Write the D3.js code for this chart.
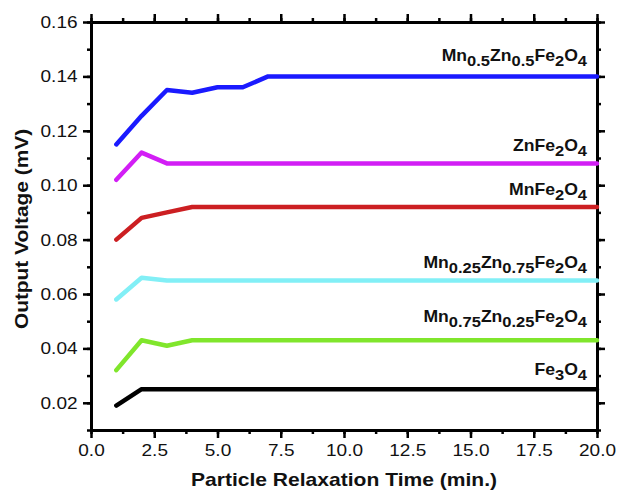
<!DOCTYPE html>
<html lang="en">
  <head>
    <meta charset="utf-8">
    <title>Output voltage vs relaxation time</title>
    <script type="text/javascript" src="https://cdn.jsdelivr.net/npm/d3@7"></script>
    <style>
      body { margin: 0; background: #fff; }
      text { font-family: Arial, "Liberation Sans", sans-serif; }
    </style>
  </head>
  <body>
    <script type="text/javascript">
      var width = 620;
      var height = 491;
      var margin = {top: 22, right: 23, bottom: 61, left: 91};

      // data
      var times = [1, 2, 3, 4, 5, 6, 7, 8, 9, 10, 11, 12, 13, 14, 15, 16, 17, 18, 19, 20];
      var mn05zn05 = [0.115, 0.1255, 0.135, 0.134, 0.136, 0.136, 0.140, 0.140, 0.140, 0.140, 0.140, 0.140, 0.140, 0.140, 0.140, 0.140, 0.140, 0.140, 0.140, 0.140];
      var znFe = [0.102, 0.112, 0.108, 0.108, 0.108, 0.108, 0.108, 0.108, 0.108, 0.108, 0.108, 0.108, 0.108, 0.108, 0.108, 0.108, 0.108, 0.108, 0.108, 0.108];
      var mnFe = [0.080, 0.088, 0.090, 0.092, 0.092, 0.092, 0.092, 0.092, 0.092, 0.092, 0.092, 0.092, 0.092, 0.092, 0.092, 0.092, 0.092, 0.092, 0.092, 0.092];
      var mn025zn075 = [0.058, 0.066, 0.065, 0.065, 0.065, 0.065, 0.065, 0.065, 0.065, 0.065, 0.065, 0.065, 0.065, 0.065, 0.065, 0.065, 0.065, 0.065, 0.065, 0.065];
      var mn075zn025 = [0.032, 0.043, 0.041, 0.043, 0.043, 0.043, 0.043, 0.043, 0.043, 0.043, 0.043, 0.043, 0.043, 0.043, 0.043, 0.043, 0.043, 0.043, 0.043, 0.043];
      var fe3o4 = [0.019, 0.025, 0.025, 0.025, 0.025, 0.025, 0.025, 0.025, 0.025, 0.025, 0.025, 0.025, 0.025, 0.025, 0.025, 0.025, 0.025, 0.025, 0.025, 0.025];

      // labels as [text, subscript?] pieces
      var seriesLabels = [
        [["Mn", 0], ["0.5", 1], ["Zn", 0], ["0.5", 1], ["Fe", 0], ["2", 1], ["O", 0], ["4", 1]],
        [["ZnFe", 0], ["2", 1], ["O", 0], ["4", 1]],
        [["MnFe", 0], ["2", 1], ["O", 0], ["4", 1]],
        [["Mn", 0], ["0.25", 1], ["Zn", 0], ["0.75", 1], ["Fe", 0], ["2", 1], ["O", 0], ["4", 1]],
        [["Mn", 0], ["0.75", 1], ["Zn", 0], ["0.25", 1], ["Fe", 0], ["2", 1], ["O", 0], ["4", 1]],
        [["Fe", 0], ["3", 1], ["O", 0], ["4", 1]]
      ];
      var seriesValues = [mn05zn05, znFe, mnFe, mn025zn075, mn075zn025, fe3o4];
      var colors = ["#1a1aff", "#d21ef5", "#cc1f22", "#82eff6", "#80e62c", "#000000"];
      var labelGap = [15, 12.5, 11.5, 12, 18, 14];

      var xTicks = [0, 2.5, 5, 7.5, 10, 12.5, 15, 17.5, 20];
      var yTicks = [0.02, 0.04, 0.06, 0.08, 0.10, 0.12, 0.14, 0.16];
      var stretch = 1.12;

      var svg = d3.select("body").append("svg")
          .attr("width", width)
          .attr("height", height);

      var xScale = d3.scaleLinear().domain([0, 20])
          .range([margin.left, width - margin.right]);
      var yScale = d3.scaleLinear().domain([0.01, 0.16])
          .range([height - margin.bottom, margin.top]);

      var minorX = d3.range(0, 20.01, 1.25);
      var minorY = d3.range(0.01, 0.1601, 0.01);

      function styleAxis(g) {
        g.select(".domain").attr("stroke", "#000").attr("stroke-width", 3);
        g.selectAll(".tick line").attr("stroke", "#000").attr("stroke-width", 2.5);
        g.selectAll(".tick text")
          .attr("font-size", "17px")
          .attr("fill", "#111");
      }

      // minor ticks
      svg.append("g").attr("transform", "translate(0," + yScale(0.01) + ")")
         .call(d3.axisBottom(xScale).tickValues(minorX).tickSize(4).tickFormat("").tickSizeOuter(0))
         .call(styleAxis);
      svg.append("g").attr("transform", "translate(0," + yScale(0.16) + ")")
         .call(d3.axisTop(xScale).tickValues(minorX).tickSize(4).tickFormat("").tickSizeOuter(0))
         .call(styleAxis);
      svg.append("g").attr("transform", "translate(" + xScale(0) + ",0)")
         .call(d3.axisLeft(yScale).tickValues(minorY).tickSize(4).tickFormat("").tickSizeOuter(0))
         .call(styleAxis);
      svg.append("g").attr("transform", "translate(" + xScale(20) + ",0)")
         .call(d3.axisRight(yScale).tickValues(minorY).tickSize(4).tickFormat("").tickSizeOuter(0))
         .call(styleAxis);

      // major ticks
      var xAxis = svg.append("g").attr("transform", "translate(0," + yScale(0.01) + ")")
         .call(d3.axisBottom(xScale).tickValues(xTicks).tickSize(8).tickPadding(6)
               .tickFormat(d3.format(".1f")).tickSizeOuter(0))
         .call(styleAxis);
      xAxis.selectAll(".tick text").attr("transform", "scale(" + stretch + ",1)");

      svg.append("g").attr("transform", "translate(0," + yScale(0.16) + ")")
         .call(d3.axisTop(xScale).tickValues(xTicks).tickSize(8).tickFormat("").tickSizeOuter(0))
         .call(styleAxis);

      var yAxis = svg.append("g").attr("transform", "translate(" + xScale(0) + ",0)")
         .call(d3.axisLeft(yScale).tickValues(yTicks).tickSize(8).tickPadding(4)
               .tickFormat(d3.format(".2f")).tickSizeOuter(0))
         .call(styleAxis);
      yAxis.selectAll(".tick text").attr("transform", "scale(" + stretch + ",1)");

      svg.append("g").attr("transform", "translate(" + xScale(20) + ",0)")
         .call(d3.axisRight(yScale).tickValues(yTicks).tickSize(8).tickFormat("").tickSizeOuter(0))
         .call(styleAxis);

      // lines
      var line = d3.line()
          .x(function(d, i) { return xScale(times[i]); })
          .y(function(d) { return yScale(d); });

      svg.selectAll("path.series")
         .data(seriesValues)
         .enter()
         .append("path")
         .attr("class", "series")
         .attr("d", line)
         .attr("fill", "none")
         .attr("stroke", function(d, i) { return colors[i]; })
         .attr("stroke-width", 4.5)
         .attr("stroke-linejoin", "round")
         .attr("stroke-linecap", "round");

      // series labels
      seriesLabels.forEach(function(parts, i) {
        var vals = seriesValues[i];
        var g = svg.append("g")
            .attr("transform", "translate(" + (xScale(20) - 10) + "," +
                  (yScale(vals[vals.length - 1]) - labelGap[i]) + ") scale(1.1,1)");
        var t = g.append("text")
            .attr("text-anchor", "end")
            .attr("font-weight", "bold")
            .attr("font-size", "16px")
            .attr("fill", "#111");
        var prevSub = false;
        parts.forEach(function(p) {
          var ts = t.append("tspan").text(p[0]);
          if (p[1]) {
            ts.attr("font-size", "15px").attr("dy", prevSub ? 0 : 5);
          } else {
            ts.attr("dy", prevSub ? -5 : 0);
          }
          prevSub = !!p[1];
        });
      });

      // axis titles
      svg.append("text")
         .attr("transform", "translate(" + ((xScale(0) + xScale(20)) / 2) + "," + 486 + ") scale(1.17,1)")
         .attr("text-anchor", "middle")
         .attr("font-weight", "bold")
         .attr("font-size", "18px")
         .attr("fill", "#111")
         .text("Particle Relaxation Time (min.)");

      svg.append("text")
         .attr("transform", "translate(28," + ((yScale(0.01) + yScale(0.16)) / 2 + 3) + ") rotate(-90) scale(1.16,1)")
         .attr("text-anchor", "middle")
         .attr("font-weight", "bold")
         .attr("font-size", "18px")
         .attr("fill", "#111")
         .text("Output Voltage (mV)");
    </script>
  </body>
</html>
